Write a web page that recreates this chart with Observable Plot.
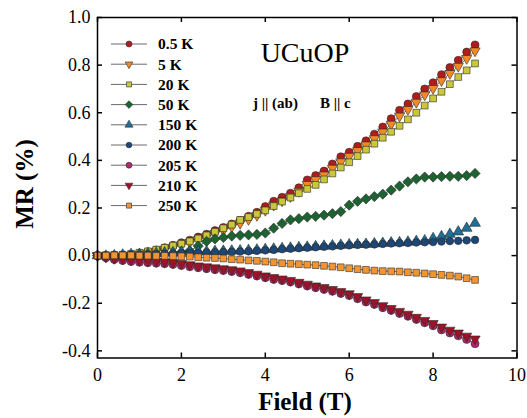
<!DOCTYPE html>
<html>
<head>
<meta charset="utf-8">
<script src="https://cdn.jsdelivr.net/npm/d3@7"></script>
<script src="https://cdn.jsdelivr.net/npm/@observablehq/plot@0.6"></script>
<style>
  html, body { margin: 0; padding: 0; background: #fff; }
  svg { display: block; }
  svg text { font-family: "Liberation Serif", serif !important; }
</style>
</head>
<body>
<div id="chart"></div>
<script>
// ---- data ----
const fieldT = [0,0.2,0.4,0.6,0.8,1.0,1.2,1.4,1.6,1.8,2.0,2.2,2.4,2.6,2.8,3.0,3.2,3.4,3.6,3.8,4.0,4.2,4.4,4.6,4.8,5.0,5.2,5.4,5.6,5.8,6.0,6.2,6.4,6.6,6.8,7.0,7.2,7.4,7.6,7.8,8.0,8.2,8.4,8.6,8.8,9.0];

const temps = ["0.5 K","5 K","20 K","50 K","150 K","200 K","205 K","210 K","250 K"];

const mr_0_5K = [0,0.000,-0.002,0.000,0.005,0.010,0.016,0.024,0.033,0.043,0.054,0.065,0.078,0.090,0.105,0.118,0.133,0.148,0.165,0.182,0.206,0.228,0.245,0.262,0.285,0.318,0.336,0.355,0.385,0.415,0.434,0.459,0.482,0.510,0.540,0.575,0.610,0.637,0.668,0.700,0.726,0.760,0.790,0.820,0.855,0.885];
const mr_5K = [0,-0.002,-0.004,-0.003,0.001,0.006,0.011,0.018,0.026,0.035,0.045,0.055,0.067,0.080,0.093,0.106,0.121,0.136,0.152,0.169,0.190,0.212,0.230,0.248,0.270,0.299,0.319,0.339,0.367,0.394,0.417,0.441,0.465,0.491,0.519,0.552,0.586,0.614,0.644,0.675,0.702,0.735,0.765,0.795,0.828,0.860];
const mr_20K = [0,0.002,0.003,0.004,0.007,0.012,0.018,0.025,0.033,0.042,0.050,0.060,0.072,0.085,0.100,0.115,0.130,0.150,0.162,0.175,0.190,0.208,0.227,0.244,0.262,0.280,0.297,0.320,0.345,0.370,0.392,0.418,0.445,0.470,0.495,0.520,0.545,0.572,0.600,0.630,0.660,0.688,0.720,0.750,0.778,0.807];
const mr_50K = [0,-0.008,-0.015,-0.015,-0.012,-0.008,-0.004,0.000,0.005,0.010,0.014,0.020,0.040,0.060,0.070,0.076,0.082,0.085,0.087,0.089,0.095,0.115,0.135,0.150,0.155,0.162,0.165,0.170,0.176,0.185,0.212,0.228,0.238,0.248,0.258,0.275,0.292,0.310,0.322,0.330,0.330,0.332,0.333,0.333,0.336,0.345];
const mr_150K = [0,-0.002,0.000,0.003,0.005,0.006,0.008,0.010,0.012,0.013,0.015,0.016,0.017,0.017,0.018,0.019,0.020,0.021,0.022,0.024,0.026,0.028,0.030,0.032,0.034,0.036,0.038,0.040,0.042,0.044,0.046,0.047,0.048,0.050,0.052,0.054,0.055,0.057,0.060,0.063,0.072,0.080,0.090,0.100,0.115,0.136];
const mr_200K = [0,0.000,0.001,0.002,0.003,0.004,0.005,0.006,0.008,0.009,0.010,0.011,0.012,0.013,0.014,0.015,0.016,0.017,0.018,0.020,0.022,0.024,0.027,0.029,0.031,0.033,0.035,0.037,0.039,0.041,0.043,0.045,0.046,0.047,0.049,0.051,0.052,0.053,0.055,0.056,0.057,0.059,0.061,0.062,0.064,0.066];
const mr_205K = [0,-0.009,-0.016,-0.021,-0.025,-0.028,-0.030,-0.032,-0.034,-0.037,-0.042,-0.047,-0.051,-0.055,-0.059,-0.063,-0.067,-0.072,-0.079,-0.086,-0.093,-0.100,-0.105,-0.111,-0.119,-0.128,-0.135,-0.142,-0.150,-0.159,-0.168,-0.181,-0.195,-0.205,-0.219,-0.230,-0.243,-0.255,-0.268,-0.282,-0.295,-0.312,-0.325,-0.337,-0.352,-0.370];
const mr_210K = [0,-0.005,-0.010,-0.014,-0.017,-0.020,-0.022,-0.024,-0.026,-0.029,-0.033,-0.038,-0.043,-0.047,-0.051,-0.055,-0.059,-0.064,-0.071,-0.078,-0.085,-0.092,-0.098,-0.104,-0.112,-0.120,-0.127,-0.134,-0.142,-0.151,-0.160,-0.172,-0.186,-0.197,-0.210,-0.222,-0.234,-0.246,-0.259,-0.272,-0.285,-0.300,-0.313,-0.325,-0.338,-0.350];
const mr_250K = [0,0.000,0.001,0.001,0.001,0.000,0.000,-0.001,-0.001,-0.002,-0.003,-0.004,-0.007,-0.009,-0.010,-0.012,-0.015,-0.017,-0.020,-0.022,-0.025,-0.028,-0.032,-0.034,-0.036,-0.038,-0.040,-0.043,-0.046,-0.049,-0.053,-0.057,-0.060,-0.063,-0.065,-0.066,-0.067,-0.070,-0.072,-0.075,-0.078,-0.081,-0.084,-0.088,-0.095,-0.102];

const xTicks = [0,2,4,6,8,10];
const yTicks = [-0.4,-0.2,0.0,0.2,0.4,0.6,0.8,1.0];

// ---- styling ----
const triDown = {
  draw(ctx, size) {
    const s3 = Math.sqrt(3);
    const y = -Math.sqrt(size / (s3 * 3));
    ctx.moveTo(0, -y * 2);
    ctx.lineTo(-s3 * y, y);
    ctx.lineTo(s3 * y, y);
    ctx.closePath();
  }
};
const seriesValues = [mr_0_5K, mr_5K, mr_20K, mr_50K, mr_150K, mr_200K, mr_205K, mr_210K, mr_250K];
const colors  = ["#b01c1c","#f08a26","#c9c83a","#1d6331","#1f6f96","#1d4777","#b3276d","#9c1227","#f29530"];
const symbols = [d3.symbolCircle, triDown, d3.symbolSquare, d3.symbolDiamond2, d3.symbolTriangle, d3.symbolCircle, d3.symbolCircle, triDown, d3.symbolSquare];
const radii   = [4.0, 3.8, 3.8, 4.6, 4.0, 3.8, 4.0, 3.8, 3.8];

const rows = [];
temps.forEach((t, k) => seriesValues[k].forEach((v, i) => rows.push({series: t, k, T: fieldT[i], MR: v})));

const W = 527, H = 418, ml = 97, mr = 10.5, mt = 17, mb = 60.5;
const innerW = W - ml - mr, innerH = H - mt - mb;
const tickLen = 5;
const serif = "Liberation Serif";

const marks = [
  Plot.axisX({ticks: xTicks, tickSize: 0, tickPadding: 10, fontSize: 18, fontFamily: serif, tickFormat: d => String(d), label: null}),
  Plot.axisY({ticks: yTicks, tickSize: 0, tickPadding: 7, fontSize: 18, fontFamily: serif, tickFormat: d => d.toFixed(1), label: null}),
  Plot.tickY(yTicks, {y: d => d, insetRight: innerW - tickLen, stroke: "#000", strokeWidth: 1.5}),
  Plot.tickY(yTicks, {y: d => d, insetLeft: innerW - tickLen, stroke: "#000", strokeWidth: 1.5}),
  Plot.tickX(xTicks, {x: d => d, insetTop: innerH - tickLen, stroke: "#000", strokeWidth: 1.5}),
  Plot.tickX(xTicks, {x: d => d, insetBottom: innerH - tickLen, stroke: "#000", strokeWidth: 1.5})
];
temps.forEach((t, k) => {
  marks.push(Plot.line(rows.filter(d => d.k === k), {x: "T", y: "MR", stroke: "#6a6a6a", strokeWidth: 1}));
});
temps.forEach((t, k) => {
  marks.push(Plot.dot(rows.filter(d => d.k === k), {x: "T", y: "MR", symbol: symbols[k], r: radii[k], fill: colors[k], stroke: "#2a2a2a", strokeWidth: 0.6}));
});
marks.push(Plot.frame({stroke: "#000", strokeWidth: 1.5}));

const svg = Plot.plot({
  width: W, height: H,
  marginLeft: ml, marginRight: mr, marginTop: mt, marginBottom: mb,
  style: {fontFamily: serif, background: "#fff", color: "#000", overflow: "visible"},
  x: {domain: [0, 10]},
  y: {domain: [-0.43, 1.0]},
  marks
});
document.getElementById("chart").appendChild(svg);

// ---- annotations, axis titles and legend ----
const g = d3.select(svg).append("g").style("font-family", serif).attr("fill", "#000").attr("text-anchor", "start");
g.append("text").attr("x", 305).attr("y", 410).attr("text-anchor", "middle")
  .style("font-size", "25px").style("font-weight", "bold").text("Field (T)");
g.append("text").attr("transform", "translate(33,184) rotate(-90)").attr("text-anchor", "middle")
  .style("font-size", "25px").style("font-weight", "bold").text("MR (%)");
g.append("text").attr("x", 305).attr("y", 62).attr("text-anchor", "middle")
  .style("font-size", "28px").text("UCuOP");
g.append("text").attr("x", 253).attr("y", 108).attr("text-anchor", "start").style("font-size", "15px").style("font-weight", "bold").text("j || (ab)");
g.append("text").attr("x", 320).attr("y", 108).attr("text-anchor", "start").style("font-size", "15px").style("font-weight", "bold").text("B || c");

const leg = g.append("g");
temps.forEach((t, k) => {
  const cy = 44 + k * 20.2;
  leg.append("line").attr("x1", 111).attr("x2", 147).attr("y1", cy).attr("y2", cy)
    .attr("stroke", "#6a6a6a").attr("stroke-width", 1);
  leg.append("path").attr("transform", `translate(129,${cy})`)
    .attr("d", d3.symbol(symbols[k], Math.PI * (radii[k] * 0.75) ** 2)())
    .attr("fill", colors[k]).attr("stroke", "#2a2a2a").attr("stroke-width", 0.6);
  leg.append("text").attr("x", 158).attr("y", cy).attr("dy", "0.35em").attr("text-anchor", "start")
    .style("font-size", "15.5px").style("font-weight", "bold").text(t);
});
</script>
</body>
</html>
